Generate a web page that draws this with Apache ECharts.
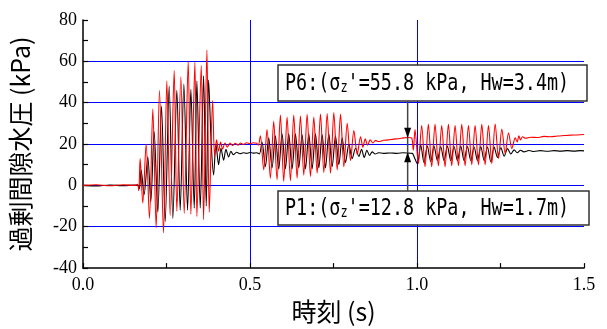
<!DOCTYPE html>
<html>
<head>
<meta charset="utf-8">
<script src="https://cdn.jsdelivr.net/npm/echarts@6/dist/echarts.min.js"></script>
<style>
  html, body { margin: 0; padding: 0; background: #fff; }
  #main { width: 607px; height: 329px; }
</style>
</head>
<body>
<div id="main"></div>
<script>
// 時刻 (s), 過剰間隙水圧 (kPa)
const p1Points = [
  [0, 0], [0.04, -0.3], [0.08, 0.2], [0.12, -0.2], [0.155, 0.2], [0.165, 0], [0.169, -1.5],
  [0.174, 7.5], [0.183, -4.5], [0.194, 13.8], [0.203, -8], [0.213, 26], [0.224, -13],
  [0.235, 38.4], [0.246, -17.5], [0.258, 48], [0.269, -16], [0.281, 46], [0.291, -12],
  [0.302, 49], [0.313, -12], [0.323, 46.5], [0.333, -11], [0.341, 50.5], [0.351, -11],
  [0.361, 53], [0.369, -10], [0.376, 51],
  [0.384, 20], [0.391, 5], [0.398, 20], [0.406, 10], [0.413, 18], [0.421, 12.2], [0.428, 17.5],
  [0.436, 13.8], [0.443, 16.5], [0.45, 14.8], [0.46, 16], [0.47, 15.3], [0.48, 15.8], [0.49, 15.5],
  [0.5, 15.9], [0.51, 15.6], [0.52, 15.8], [0.528, 15.2],
  [0.536, 21], [0.546, 9], [0.556, 23], [0.566, 8.5], [0.576, 24], [0.586, 8], [0.596, 25],
  [0.606, 8], [0.616, 25], [0.626, 8], [0.636, 25], [0.646, 8.5], [0.656, 24.5], [0.666, 8],
  [0.676, 25], [0.686, 8], [0.696, 25], [0.706, 8.5], [0.716, 24.5], [0.726, 8.5], [0.736, 25],
  [0.746, 9], [0.756, 24], [0.766, 10], [0.776, 23], [0.786, 11], [0.796, 20], [0.806, 13],
  [0.816, 18], [0.826, 14],
  [0.834, 17.5], [0.842, 13.5], [0.85, 17], [0.858, 14.5], [0.866, 16.2], [0.875, 15.2],
  [0.885, 15.8], [0.9, 15.5], [0.92, 15.7], [0.94, 15.5], [0.96, 15.8], [0.975, 15.6],
  [0.986, 15.5], [0.991, 14],
  [1.001, 10.5], [1.011, 19.5], [1.021, 11], [1.031, 19], [1.041, 11.5], [1.051, 19], [1.061, 12],
  [1.071, 18.8], [1.081, 12], [1.091, 19], [1.101, 12], [1.111, 18.8], [1.121, 12], [1.131, 19],
  [1.141, 12], [1.151, 18.8], [1.161, 12], [1.171, 18.6], [1.181, 12], [1.191, 18.8], [1.201, 12],
  [1.211, 18.6], [1.221, 11.4], [1.231, 18.5], [1.241, 13.5], [1.251, 18.2], [1.261, 14.1],
  [1.271, 17.8], [1.281, 15.2], [1.291, 17.2],
  [1.3, 15.8], [1.31, 17], [1.32, 16.2], [1.335, 16.9], [1.35, 16.4], [1.37, 16.8], [1.39, 16.5],
  [1.41, 16.8], [1.43, 16.6], [1.45, 16.8], [1.47, 16.6], [1.49, 16.8], [1.5, 16.7]
]

const p6Points = [
  [0, 0], [0.04, 0.3], [0.08, -0.2], [0.12, 0.3], [0.155, 0], [0.163, 0.5], [0.167, -2.5],
  [0.171, 13], [0.179, -8.5], [0.189, 20], [0.199, -16], [0.209, 37], [0.219, -20.5],
  [0.229, 46], [0.241, -23], [0.251, 50.5], [0.261, -14.5], [0.273, 55.5], [0.281, -12.5],
  [0.293, 52.5], [0.303, -13.5], [0.315, 60], [0.323, -14], [0.335, 59.5], [0.341, -15],
  [0.354, 58], [0.361, -16.5], [0.371, 65.5], [0.378, -13], [0.388, 41],
  [0.394, 14], [0.4, 22], [0.406, 16.5], [0.412, 21], [0.418, 17.5], [0.425, 20.5], [0.432, 18.5],
  [0.44, 20.5], [0.448, 19.3], [0.456, 20.4], [0.464, 19.5], [0.472, 20.5], [0.48, 19.8],
  [0.49, 20.6], [0.5, 20.2], [0.51, 20.6], [0.52, 20.4], [0.525, 19.5],
  [0.531, 24], [0.541, 7.5], [0.551, 27], [0.561, 3.5], [0.571, 31], [0.581, 2.7], [0.591, 34],
  [0.601, 2], [0.611, 33], [0.621, 2.3], [0.631, 34], [0.641, 3.5], [0.651, 33.5], [0.661, 5],
  [0.671, 34.4], [0.681, 4.3], [0.691, 33], [0.701, 5.9], [0.711, 34.5], [0.721, 6.2],
  [0.731, 34.8], [0.741, 5.9], [0.751, 35.2], [0.761, 7.5], [0.771, 34.5], [0.781, 9],
  [0.791, 30], [0.801, 12], [0.811, 26.5], [0.821, 15], [0.831, 23.5],
  [0.838, 18.5], [0.845, 22.5], [0.852, 19.5], [0.86, 22], [0.868, 20.5], [0.876, 21.8],
  [0.885, 21.2], [0.9, 21.8], [0.915, 22], [0.93, 22.4], [0.945, 22.6], [0.96, 23],
  [0.975, 23.2], [0.984, 23], [0.989, 17],
  [0.994, 27], [1.004, 10.5], [1.014, 29], [1.024, 9], [1.034, 29.5], [1.044, 9], [1.054, 29.5],
  [1.064, 9.5], [1.074, 29], [1.084, 9], [1.094, 29.5], [1.104, 9.5], [1.114, 29], [1.124, 9.5],
  [1.134, 29.5], [1.144, 9.5], [1.154, 29], [1.164, 10], [1.174, 29], [1.184, 10], [1.194, 29.5],
  [1.204, 10], [1.214, 29], [1.224, 10.6], [1.234, 29.7], [1.244, 13], [1.254, 27.3],
  [1.264, 15.4], [1.274, 25.5], [1.284, 17.8], [1.294, 23],
  [1.3, 21], [1.305, 24], [1.31, 22], [1.316, 23.5], [1.325, 22.8], [1.34, 23.3], [1.36, 23.2],
  [1.38, 23.7], [1.4, 23.5], [1.42, 23.9], [1.44, 24.1], [1.46, 24.3], [1.48, 24.4], [1.5, 24.6]
]

const p6Label = 'P6:(σ{sub|z}\'=55.8 kPa, Hw=3.4m)'
const p1Label = 'P1:(σ{sub|z}\'=12.8 kPa, Hw=1.7m)'
// arrow: time, and the two tip values (red / black)
const arrowTime = 0.972
const arrowTips = [23, 16]

const chart = echarts.init(document.getElementById('main'))

const labelFont = { color: '#000', fontFamily: 'Liberation Serif', fontSize: 18 }
const nameFont = { color: '#000', fontFamily: 'Noto Sans CJK JP', fontSize: 25 }

chart.setOption({
  animation: false,
  backgroundColor: '#fff',
  grid: { left: 83, right: 23, top: 20, bottom: 55 },
  xAxis: {
    type: 'value',
    min: 0,
    max: 1.5,
    interval: 0.5,
    name: '時刻 (s)',
    nameLocation: 'middle',
    nameGap: 27,
    nameTextStyle: nameFont,
    axisLine: { onZero: false, lineStyle: { color: '#000', width: 1.5 } },
    axisTick: { inside: true, length: 5, lineStyle: { color: '#000', width: 1.2 } },
    minorTick: { show: true, splitNumber: 2, length: 5, lineStyle: { color: '#000', width: 1.2 } },
    axisLabel: Object.assign({ margin: 8, formatter: v => v.toFixed(1) }, labelFont),
    splitLine: { show: true, showMinLine: false, showMaxLine: false, lineStyle: { color: '#0000ff', width: 1 } }
  },
  yAxis: {
    type: 'value',
    min: -40,
    max: 80,
    interval: 20,
    name: '過剰間隙水圧 (kPa)',
    nameLocation: 'middle',
    nameGap: 42,
    nameTextStyle: Object.assign({ padding: [0, 0, 8, 0] }, nameFont),
    axisLine: { show: true, onZero: false, lineStyle: { color: '#000', width: 1.5 } },
    axisTick: { inside: true, length: 5, lineStyle: { color: '#000', width: 1.2 } },
    minorTick: { show: true, splitNumber: 2, length: 5, lineStyle: { color: '#000', width: 1.2 } },
    axisLabel: Object.assign({ margin: 6 }, labelFont),
    splitLine: { show: true, showMinLine: false, showMaxLine: false, lineStyle: { color: '#0000ff', width: 1 } }
  },
  series: [
    {
      name: 'P1',
      type: 'line',
      data: p1Points,
      showSymbol: false,
      smooth: 0.3,
      lineStyle: { color: '#000', width: 1.1 },
      z: 3
    },
    {
      name: 'P6',
      type: 'line',
      data: p6Points,
      showSymbol: false,
      smooth: 0.3,
      lineStyle: { color: '#ff0000', width: 1.1 },
      z: 4
    }
  ]
})

// annotation boxes and the arrow
const ax = chart.convertToPixel({ gridIndex: 0 }, [arrowTime, arrowTips[0]])
const bx = chart.convertToPixel({ gridIndex: 0 }, [arrowTime, arrowTips[1]])
const boxText = {
  fontFamily: 'DejaVu Sans Mono',
  fontSize: 23,
  fill: '#000',
  lineHeight: 24,
  rich: { sub: { fontFamily: 'DejaVu Sans Mono', fontSize: 15, lineHeight: 8, verticalAlign: 'bottom' } }
}
function box(x, y, w, h, label) {
  return {
    type: 'group',
    z: 100,
    children: [
      { type: 'rect', shape: { x: x, y: y, width: w, height: h }, style: { fill: '#fff', stroke: '#333', lineWidth: 1.5 } },
      {
        type: 'text', x: x + 7, y: y + h / 2 + 1, scaleX: 0.8,
        style: Object.assign({ text: label, verticalAlign: 'middle' }, boxText)
      }
    ]
  }
}
chart.setOption({
  graphic: [
    {
      type: 'line', z: 90,
      shape: { x1: ax[0], y1: 101, x2: ax[0], y2: 191 },
      style: { stroke: '#444', lineWidth: 1.5 }
    },
    {
      type: 'polygon', z: 91,
      shape: { points: [[ax[0] - 3.5, ax[1] - 10], [ax[0] + 3.5, ax[1] - 10], [ax[0], ax[1]]] },
      style: { fill: '#000' }
    },
    {
      type: 'polygon', z: 91,
      shape: { points: [[bx[0] - 3.5, bx[1] + 10], [bx[0] + 3.5, bx[1] + 10], [bx[0], bx[1]]] },
      style: { fill: '#000' }
    },
    box(278, 65, 309, 36, p6Label),
    box(278, 191, 311, 34, p1Label)
  ]
})
</script>
</body>
</html>
